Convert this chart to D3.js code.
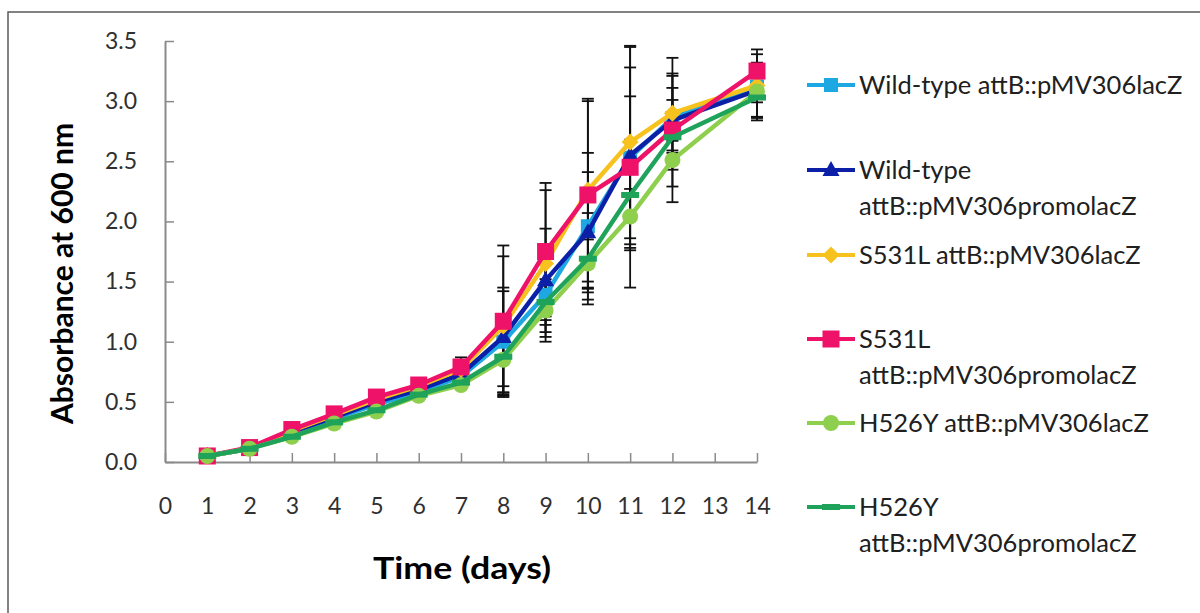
<!DOCTYPE html>
<html><head><meta charset="utf-8">
<script src="https://cdn.jsdelivr.net/npm/d3@7"></script>
<style>body{margin:0;background:#fff}svg{display:block}</style>
</head><body>
<svg id="chart" width="1200" height="613"></svg>
<script>
// ---- data ----
const days = [1, 2, 3, 4, 5, 6, 7, 8, 9, 10, 11, 12, 14];
const xTickValues = [0, 1, 2, 3, 4, 5, 6, 7, 8, 9, 10, 11, 12, 13, 14];
const yTickValues = [0, 0.5, 1.0, 1.5, 2.0, 2.5, 3.0, 3.5];
const seriesLabels = [
  ["Wild-type attB::pMV306lacZ"],
  ["Wild-type", "attB::pMV306promolacZ"],
  ["S531L attB::pMV306lacZ"],
  ["S531L", "attB::pMV306promolacZ"],
  ["H526Y attB::pMV306lacZ"],
  ["H526Y", "attB::pMV306promolacZ"]
];
const wtLacZ      = [0.05, 0.11, 0.24, 0.36, 0.48, 0.58, 0.71, 1.00, 1.39, 1.96, 2.53, 2.86, 3.12];
const wtPromo     = [0.05, 0.11, 0.25, 0.37, 0.50, 0.60, 0.73, 1.04, 1.51, 1.91, 2.55, 2.84, 3.09];
const s531lLacZ   = [0.05, 0.11, 0.26, 0.39, 0.52, 0.63, 0.77, 1.13, 1.65, 2.26, 2.66, 2.90, 3.13];
const s531lPromo  = [0.05, 0.12, 0.27, 0.40, 0.54, 0.64, 0.79, 1.17, 1.75, 2.22, 2.45, 2.76, 3.25];
const h526yLacZ   = [0.05, 0.11, 0.21, 0.32, 0.42, 0.55, 0.64, 0.85, 1.26, 1.65, 2.04, 2.51, 3.08];
const h526yPromo  = [0.05, 0.11, 0.21, 0.33, 0.43, 0.56, 0.66, 0.875, 1.33, 1.69, 2.22, 2.70, 3.03];
// error bar half-widths (std dev)
const wtLacZErr     = [0.01, 0.01, 0.02, 0.02, 0.02, 0.02, 0.03, 0.42, 0.39, 0.61, 0.75, 0.35, 0.10];
const wtPromoErr    = [0.01, 0.01, 0.02, 0.02, 0.02, 0.02, 0.03, 0.41, 0.43, 0.50, 0.49, 0.17, 0.10];
const s531lLacZErr  = [0.01, 0.01, 0.02, 0.02, 0.02, 0.02, 0.03, 0.58, 0.61, 0.76, 0.80, 0.33, 0.26];
const s531lPromoErr = [0.01, 0.01, 0.02, 0.02, 0.02, 0.02, 0.08, 0.63, 0.57, 0.78, 1.00, 0.60, 0.18];
const h526yLacZErr  = [0.01, 0.01, 0.02, 0.02, 0.02, 0.02, 0.03, 0.29, 0.05, 0.20, 0.23, 0.08, 0.24];
const h526yPromoErr = [0.01, 0.01, 0.02, 0.02, 0.02, 0.02, 0.03, 0.30, 0.19, 0.38, 0.46, 0.41, 0.17];

const seriesValues = [wtLacZ, wtPromo, s531lLacZ, s531lPromo, h526yLacZ, h526yPromo];
const seriesErrors = [wtLacZErr, wtPromoErr, s531lLacZErr, s531lPromoErr, h526yLacZErr, h526yPromoErr];
const seriesColors = ["#1EA8E2", "#0B20A6", "#F8C21E", "#EE1268", "#8FCF4E", "#1FA259"];
const seriesMarkers = ["square", "triangle", "diamond", "bigsquare", "circle", "dash"];

// ---- drawing ----
const svg = d3.select("#chart");
const font = "Lato, 'Open Sans', sans-serif";
const x = d3.scaleLinear().domain([0, 14]).range([165, 757]);
const y = d3.scaleLinear().domain([0, 3.5]).range([462, 41]);

// outer frame
svg.append("rect").attr("x", 8).attr("y", 12).attr("width", 1210).attr("height", 620)
  .attr("fill", "none").attr("stroke", "#595959").attr("stroke-width", 1.5);

const axisColor = "#8a8a8a";
const gy = svg.append("g").attr("transform", `translate(${x(0)},0)`)
  .call(d3.axisLeft(y).tickValues(yTickValues).tickFormat(d3.format(".1f"))
    .tickSizeInner(-9).tickSizeOuter(0).tickPadding(28));
const gx = svg.append("g").attr("transform", `translate(0,${y(0)})`)
  .call(d3.axisBottom(x).tickValues(xTickValues).tickFormat(d3.format("d"))
    .tickSizeInner(-9).tickSizeOuter(0).tickPadding(36));
[gy, gx].forEach(g => {
  g.select(".domain").attr("stroke", axisColor).attr("stroke-width", 2);
  g.selectAll(".tick line").attr("stroke", axisColor).attr("stroke-width", 1.5);
  g.selectAll(".tick text").attr("fill", "#303030").style("font-family", font).style("font-size", "23px");
});

// axis titles
svg.append("text").attr("transform", `translate(73,${(y(0) + y(3.5)) / 2 + 22}) rotate(-90)`)
  .attr("text-anchor", "middle").style("font-family", font).style("font-weight", "bold")
  .style("font-size", "30px").attr("fill", "#000").text("Absorbance at 600 nm");
svg.append("text").attr("x", 462).attr("y", 579).attr("text-anchor", "middle")
  .style("font-family", font).style("font-weight", "bold").style("font-size", "31px")
  .attr("fill", "#000").attr("textLength", 178).attr("lengthAdjust", "spacingAndGlyphs").text("Time (days)");

// error bars
const eb = svg.append("g");
seriesValues.forEach((vals, si) => {
  vals.forEach((v, i) => {
    const e = seriesErrors[si][i];
    const cx = x(days[i]);
    eb.append("line").attr("x1", cx).attr("x2", cx).attr("y1", y(v - e)).attr("y2", y(v + e))
      .attr("stroke", "#111").attr("stroke-width", 1.8);
    [v - e, v + e].forEach(t => eb.append("line").attr("x1", cx - 6).attr("x2", cx + 6)
      .attr("y1", y(t)).attr("y2", y(t)).attr("stroke", "#111").attr("stroke-width", 1.8));
  });
});

function drawMarker(g, type, cx, cy, color) {
  if (type === "square") g.append("rect").attr("x", cx - 7).attr("y", cy - 7).attr("width", 14).attr("height", 14).attr("fill", color);
  else if (type === "bigsquare") g.append("rect").attr("x", cx - 8.5).attr("y", cy - 8.5).attr("width", 17).attr("height", 17).attr("fill", color);
  else if (type === "triangle") g.append("path").attr("d", `M${cx},${cy - 9}L${cx + 8.5},${cy + 6}L${cx - 8.5},${cy + 6}Z`).attr("fill", color);
  else if (type === "diamond") g.append("path").attr("d", `M${cx},${cy - 8.5}L${cx + 8.5},${cy}L${cx},${cy + 8.5}L${cx - 8.5},${cy}Z`).attr("fill", color);
  else if (type === "circle") g.append("circle").attr("cx", cx).attr("cy", cy).attr("r", 8).attr("fill", color);
  else if (type === "dash") g.append("rect").attr("x", cx - 9).attr("y", cy - 3).attr("width", 18).attr("height", 6).attr("fill", color);
}

const line = d3.line().x((d, i) => x(days[i])).y(d => y(d));
seriesValues.forEach((vals, si) => {
  const g = svg.append("g");
  g.append("path").attr("d", line(vals)).attr("fill", "none").attr("stroke", seriesColors[si])
    .attr("stroke-width", 4.5).attr("stroke-linejoin", "round");
  vals.forEach((v, i) => drawMarker(g, seriesMarkers[si], x(days[i]), y(v), seriesColors[si]));
});

// legend
const legendY = [85, 170, 255, 339, 423, 507];
seriesLabels.forEach((lines, si) => {
  const g = svg.append("g").attr("transform", `translate(0,${legendY[si]})`);
  g.append("line").attr("x1", 807).attr("x2", 855).attr("y1", 0).attr("y2", 0)
    .attr("stroke", seriesColors[si]).attr("stroke-width", 4);
  drawMarker(g, seriesMarkers[si], 831, 0, seriesColors[si]);
  lines.forEach((t, li) => g.append("text").attr("x", 859).attr("y", li * 36 + 9)
    .style("font-family", font).style("font-size", "25.5px").attr("fill", "#202020").text(t));
});
</script>
</body></html>
